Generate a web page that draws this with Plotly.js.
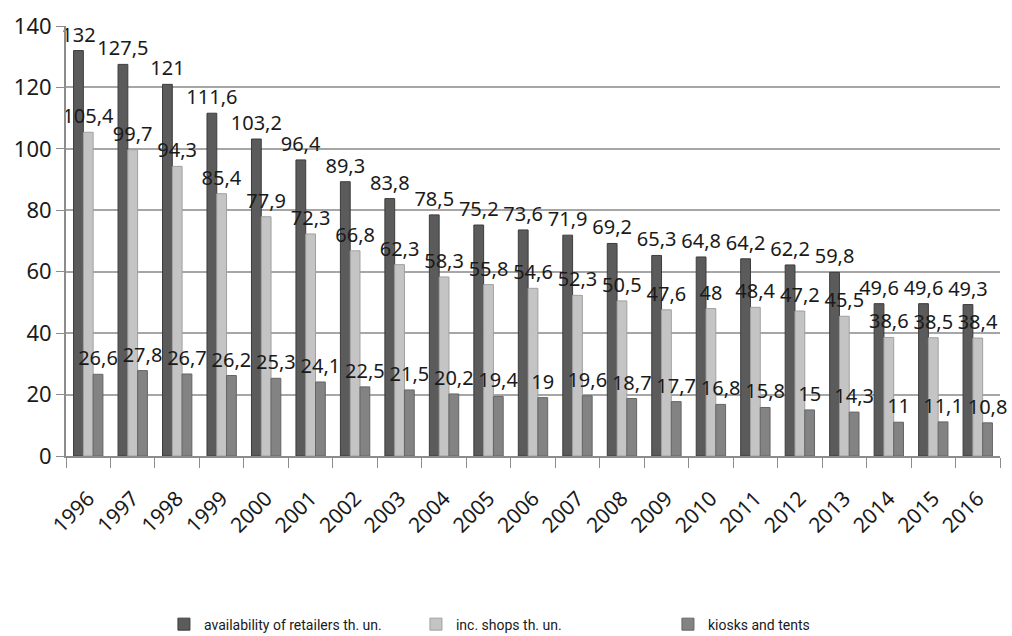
<!DOCTYPE html>
<html>
<head>
<meta charset="utf-8">
<script src="https://cdn.plot.ly/plotly-3.0.1.min.js"></script>
<style>html,body{margin:0;padding:0;background:#fff;}#chart{width:1012px;height:636px;}</style>
</head>
<body>
<div id="chart"></div>
<script>
const years = ['1996','1997','1998','1999','2000','2001','2002','2003','2004','2005','2006','2007','2008','2009','2010','2011','2012','2013','2014','2015','2016'];
const retailers = [132,127.5,121,111.6,103.2,96.4,89.3,83.8,78.5,75.2,73.6,71.9,69.2,65.3,64.8,64.2,62.2,59.8,49.6,49.6,49.3];
const shops = [105.4,99.7,94.3,85.4,77.9,72.3,66.8,62.3,58.3,55.8,54.6,52.3,50.5,47.6,48,48.4,47.2,45.5,38.6,38.5,38.4];
const kiosks = [26.6,27.8,26.7,26.2,25.3,24.1,22.5,21.5,20.2,19.4,19,19.6,18.7,17.7,16.8,15.8,15,14.3,11,11.1,10.8];
const seriesNames = ['availability of retailers th. un.','inc. shops th. un.','kiosks and tents'];

const fmt = v => String(v).replace('.', ',');
const labelFont = {family:'Noto Sans, DejaVu Sans, sans-serif', size:20, color:'#1a1a1a'};

function barTrace(name, vals, color, line){
  return {
    type:'bar', name:name, x:years, y:vals,
    text: vals.map(fmt), textposition:'outside', constraintext:'none',
    cliponaxis:false, textfont:labelFont,
    marker:{color:color, line:{color:line, width:1}},
    hoverinfo:'x+y'
  };
}

const data = [
  barTrace(seriesNames[0], retailers, '#5b5b5b', '#3c3c3c'),
  barTrace(seriesNames[1], shops, '#c4c4c4', '#a0a0a0'),
  barTrace(seriesNames[2], kiosks, '#838383', '#656565')
];

const layout = {
  width:1012, height:636,
  paper_bgcolor:'#ffffff', plot_bgcolor:'#ffffff',
  margin:{l:66, r:12, t:26, b:180},
  barmode:'group', bargap:0.34, bargroupgap:0,
  font:{family:'Noto Sans, DejaVu Sans, sans-serif', color:'#1a1a1a'},
  xaxis:{
    type:'category', tickangle:-45, tickfont:{size:21, color:'#1a1a1a'},
    showline:true, linecolor:'#8c8c8c', linewidth:2,
    ticks:'outside', ticklen:10, tickcolor:'#8c8c8c', tickson:'boundaries',
    ticklabelstandoff:20,
    showgrid:false
  },
  yaxis:{
    range:[0,140], dtick:20, tickfont:{size:22, color:'#1a1a1a'},
    showline:true, linecolor:'#8c8c8c', linewidth:2,
    ticks:'outside', ticklen:8, tickcolor:'#8c8c8c',
    showgrid:true, gridcolor:'#a6a6a6', gridwidth:2,
    zeroline:false
  },
  showlegend:true,
  legend:{
    orientation:'h', xref:'container', yref:'container',
    x:0.162, y:0.018, xanchor:'left', yanchor:'middle',
    entrywidth:207, entrywidthmode:'pixels',
    font:{family:'Liberation Sans Narrow, Arial Narrow, Roboto, sans-serif', size:14, color:'#1a1a1a'},
    traceorder:'normal'
  }
};

Plotly.newPlot('chart', data, layout, {displayModeBar:false, staticPlot:true});
</script>
</body>
</html>
